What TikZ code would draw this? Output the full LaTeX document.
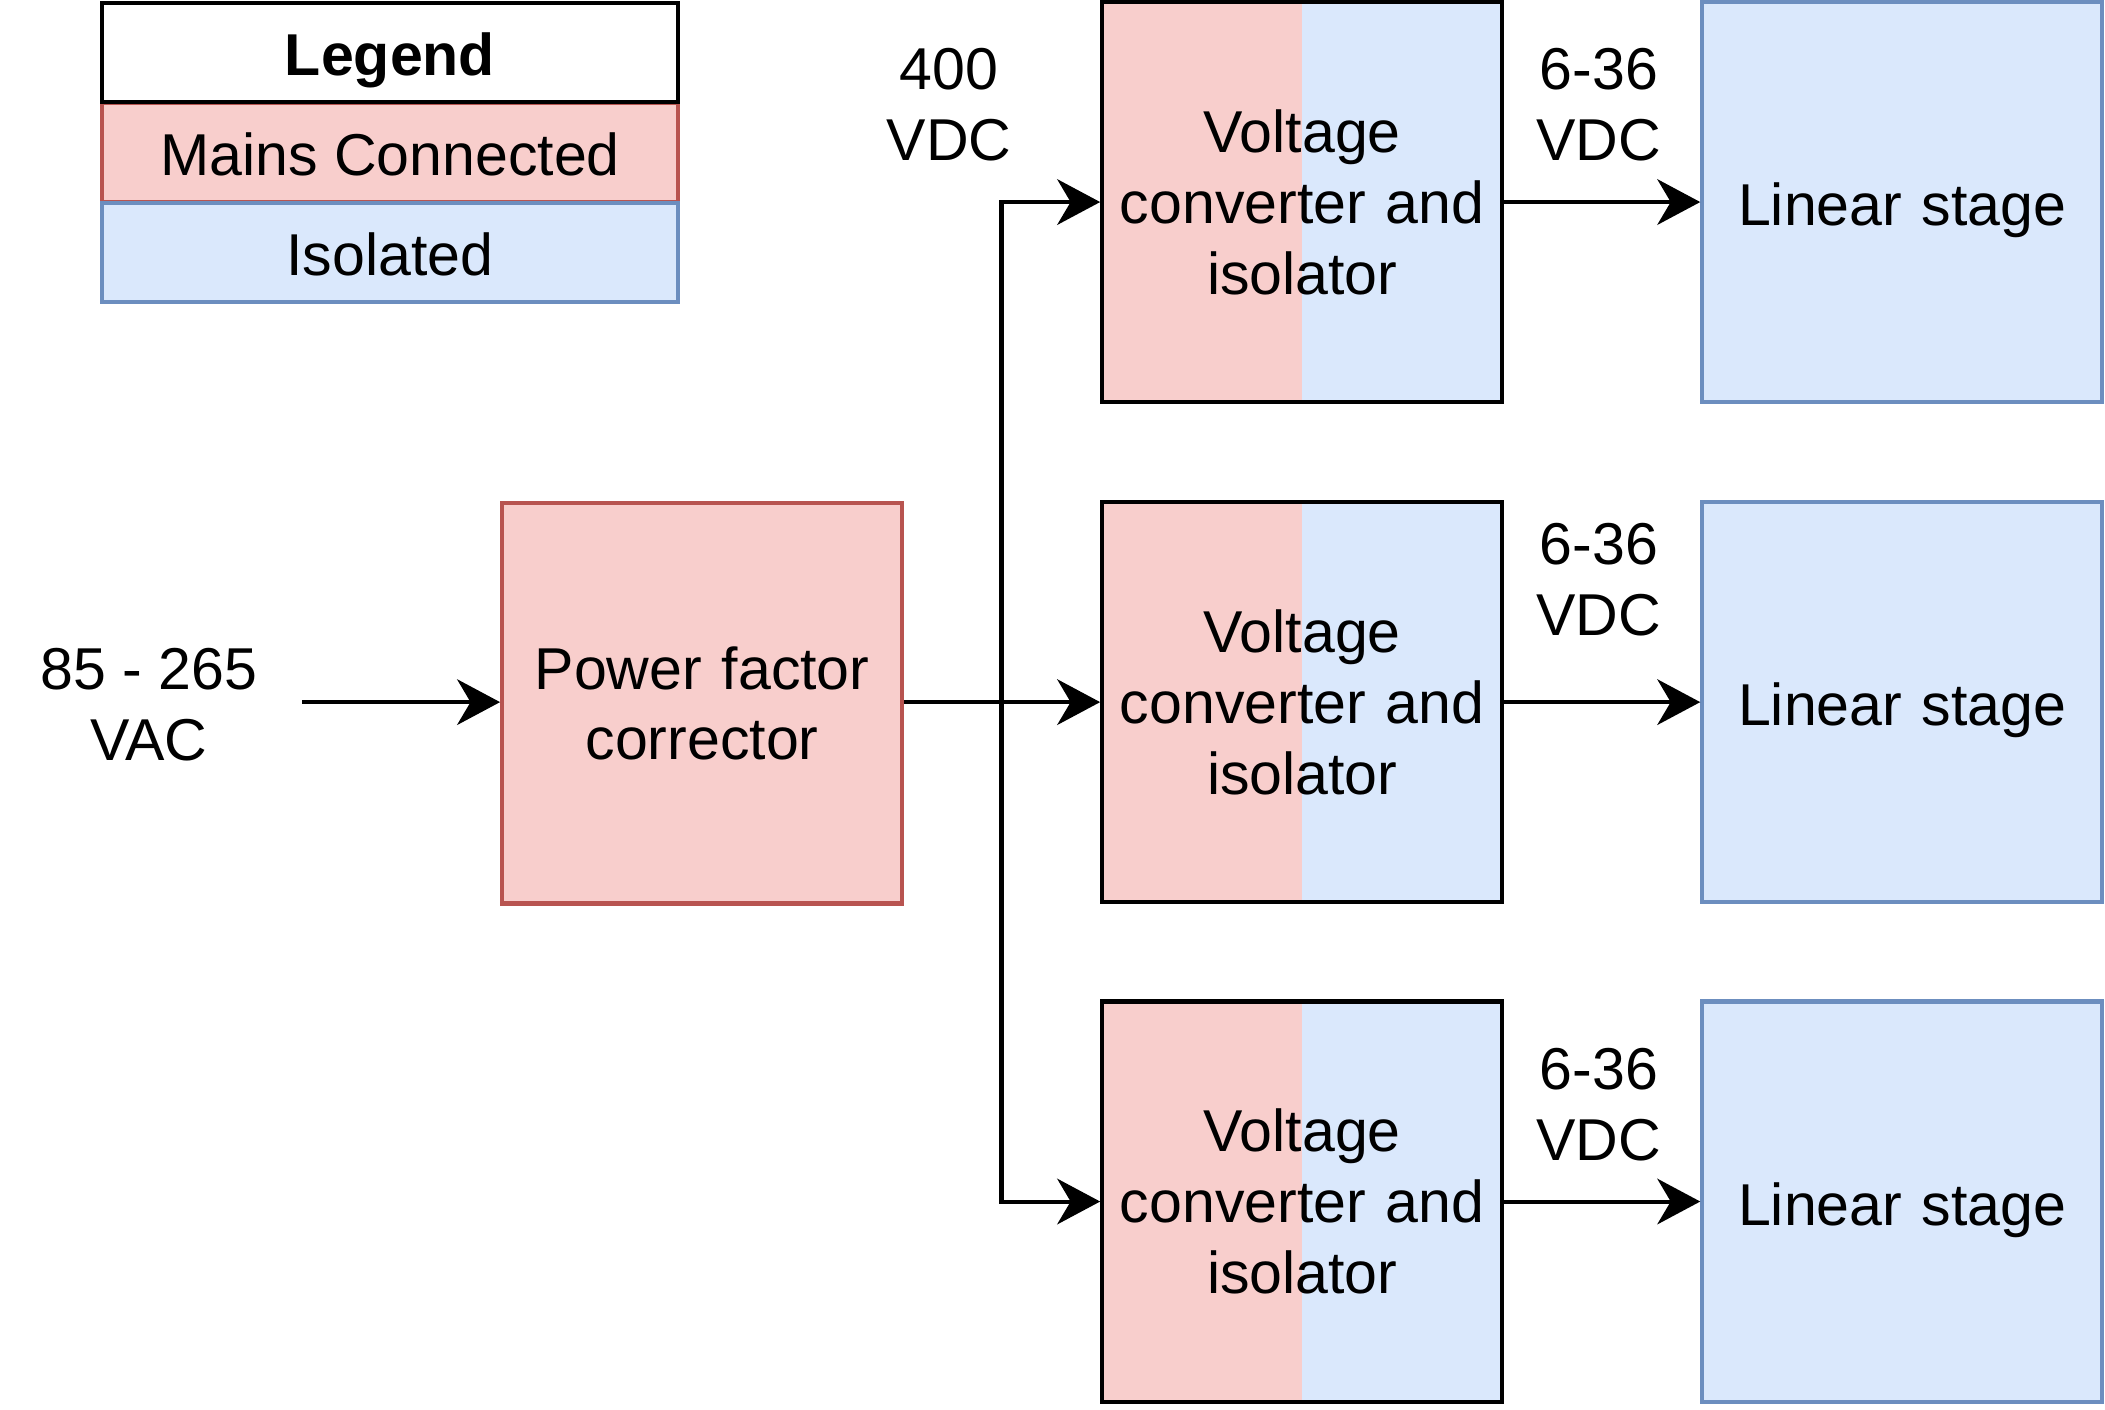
\documentclass[tikz,border=0pt]{standalone}
\usepackage{fontspec}
\setmainfont{Liberation Sans}
\usetikzlibrary{arrows.meta}
\definecolor{pinkf}{HTML}{F8CECC}
\definecolor{reds}{HTML}{B85450}
\definecolor{bluef}{HTML}{DAE8FC}
\definecolor{blues}{HTML}{6C8EBF}
\begin{document}
\begin{tikzpicture}[x=0.5pt,y=-0.5pt, font=\fontsize{22pt}{26.4pt}\selectfont, line width=1.5pt,
 blk/.style={draw, minimum width=149pt, minimum height=149pt, inner sep=0pt, align=center, text width=145pt},
 pfcbox/.style={blk, fill=pinkf, draw=reds},
 linbox/.style={blk, fill=bluef, draw=blues, text height=20pt, text depth=2.5pt},
 vcbox/.style={blk, draw=black, path picture={\fill[pinkf] (path picture bounding box.south west) rectangle (path picture bounding box.north); \fill[bluef] (path picture bounding box.south) rectangle (path picture bounding box.north east);}},
 legrow/.style={draw, minimum width=214.5pt, minimum height=37pt, inner sep=0pt, align=center, text height=20pt, text depth=2.5pt},
 arr/.style={-{Stealth[length=16pt,width=17pt,inset=5pt]}},
 lbl/.style={align=center, inner sep=0pt}]
\useasboundingbox (0,0) rectangle (1568,1050);
% legend
\node[legrow, fill=pinkf, draw=reds] (mains) at (290.5,113.5) {Mains Connected};
\node[legrow, fill=bluef, draw=blues] (iso) at (290.5,188) {Isolated};
\node[legrow, fill=white, draw=black, font=\fontsize{22pt}{26.4pt}\selectfont\bfseries] (leg) at (290.5,39) {Legend};
% blocks
\node[pfcbox] (pfc) at (523,524) {Power factor\\corrector};
\node[vcbox] (vc1) at (970,150.5) {Voltage\\converter and\\isolator};
\node[vcbox] (vc2) at (970,523) {Voltage\\converter and\\isolator};
\node[vcbox] (vc3) at (970,895) {Voltage\\converter and\\isolator};
\node[linbox] (lin1) at (1417,150.5) {Linear stage};
\node[linbox] (lin2) at (1417,523) {Linear stage};
\node[linbox] (lin3) at (1417,895) {Linear stage};
% labels
\node[lbl] (vac) at (111,525) {85 - 265\\VAC};
\node[lbl] (v400) at (707,78) {400\\VDC};
\node[lbl] (d1) at (1191,78) {6-36\\VDC};
\node[lbl] (d2) at (1191,432) {6-36\\VDC};
\node[lbl] (d3) at (1191,823) {6-36\\VDC};
% connectors
\coordinate (in) at (225,523);
\coordinate (j) at (746,523);
\draw[arr] (in) -- (pfc.west |- in);
\draw (pfc.east |- j) -- (j);
\draw[arr] (j) -- (vc2.west);
\draw[arr] (j) |- (vc1.west);
\draw[arr] (j) |- (vc3.west);
\draw[arr] (vc1.east) -- (lin1.west);
\draw[arr] (vc2.east) -- (lin2.west);
\draw[arr] (vc3.east) -- (lin3.west);
\end{tikzpicture}
\end{document}
